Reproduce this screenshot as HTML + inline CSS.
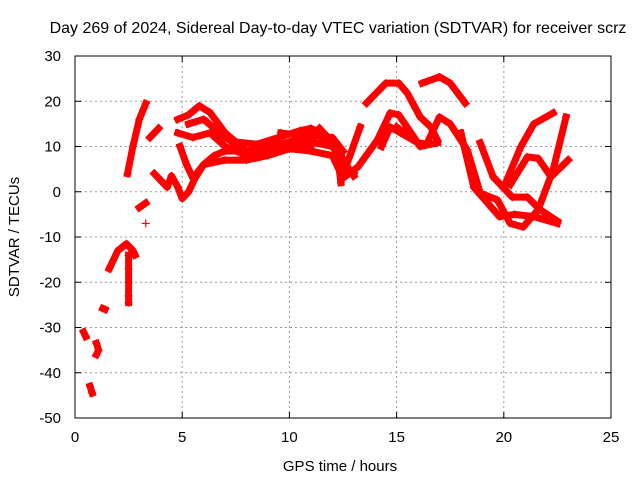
<!DOCTYPE html>
<html><head><meta charset="utf-8"><style>
body{margin:0;background:#fff}
svg{display:block;font-family:"Liberation Sans",sans-serif}
</style></head><body>
<svg id="c" width="640" height="480">
<rect width="640" height="480" fill="#fff"/>
<text x="338" y="33" font-size="16" text-anchor="middle">Day 269 of 2024, Sidereal Day-to-day VTEC variation (SDTVAR) for receiver scrz</text>
<text x="340" y="471" font-size="15" text-anchor="middle">GPS time / hours</text>
<text transform="translate(19,237) rotate(-90)" font-size="15" text-anchor="middle">SDTVAR / TECUs</text>
<g id="grid"></g><g id="marks"></g>
<rect x="75" y="56" width="536" height="362" fill="none" stroke="#000" stroke-width="1"/>
</svg>
<script>
const xTicks=[0,5,10,15,20,25];
const yTicks=[-50,-40,-30,-20,-10,0,10,20,30];
const tracks=[
[[0.4,-31],[0.5,-32]],
[[1.0,-33.5],[1.1,-35],[1.0,-36]],
[[0.7,-43],[0.8,-44.5]],
[[1.3,-25.8],[1.4,-26]],
[[1.6,-17],[2.0,-13],[2.4,-11.5],[2.7,-13],[2.8,-14]],
[[2.5,-14],[2.5,-17],[2.5,-20],[2.5,-23],[2.5,-24.5]],
[[3.0,-3.5],[3.3,-2.5]],
[[3.3,-7]],
[[2.45,4],[2.7,10],[3.0,16],[3.3,19.5]],
[[3.5,12],[3.9,14]],
[[3.7,4],[4.1,2],[4.3,1],[4.5,3.5],[4.8,1],[5.0,-1.5],[5.3,0],[5.6,3],[6.0,6],[6.5,8],[7,9],[8,9],[9,9.5],[10,10],[11,9.5]],
[[4.8,16],[5.3,17],[5.8,19],[6.3,17.5],[7,13],[7.5,11],[8.5,10.5],[9.5,12],[10.5,13.5],[11,14],[11.5,13],[12.2,10],[12.7,5],[13,4]],
[[4.8,13],[5.5,12],[6.3,13],[7,10],[8,8],[9,8.5],[10,10],[11,11],[12,10],[12.5,7],[13,3.5]],
[[4.9,10],[5.2,6],[5.5,3],[6,6],[7,7],[8,7],[9,8],[10,9.5],[11,9],[12,8],[12.4,4]],
[[5.3,15],[6,16],[7,12],[8,9],[9,10],[10,11],[11,12.5],[12,12],[12.5,9]],
[[9.6,13],[10.5,12.5],[11.4,12.3],[12.4,8.5],[12.6,5],[13.3,14.3]],
[[11.4,14],[12.2,10],[12.4,2]],
[[12.5,3],[13.2,5.5],[14.1,11.4],[14.7,17.4],[15.1,17],[16.1,10],[16.9,10.8]],
[[13.6,19.6],[14.5,24],[15.1,24],[15.5,21.8],[16.1,16.5],[16.6,14.3],[16.9,11.4]],
[[16.2,24],[17.0,25.4],[17.5,24],[18.2,19.6]],
[[14.3,10],[14.7,14.3],[15.2,13],[16.1,10.5]],
[[15.0,14.3],[16.0,10.8],[16.4,10.5],[17.0,16.5],[17.5,15],[18.3,9.2],[18.9,-0.3],[19.7,-1.8],[20.3,-7],[20.9,-7.8],[21.6,-4],[22.3,4.8],[22.9,16.5]],
[[18.0,13],[18.6,1],[19.8,-5.5],[20.5,-5],[21.4,-5.5],[22.5,-7]],
[[18.9,10.8],[19.5,3.3],[20.4,-1.2],[21.1,-1.2],[21.7,-4],[22.5,-6.5]],
[[20.0,1],[20.8,10],[21.4,15],[22.3,17.4]],
[[20.3,1.6],[21.1,7.7],[21.6,7.4],[22.2,3.3],[23.0,7]]
];
const X=v=>75+v*(536/25), Y=v=>418-(v+50)*(362/80);
const NS="http://www.w3.org/2000/svg";
const grid=document.getElementById('grid'), marks=document.getElementById('marks');
function mk(t,a,p){const e=document.createElementNS(NS,t);for(const k in a)e.setAttribute(k,a[k]);p.appendChild(e);return e;}
xTicks.forEach(t=>{
 if(t>0&&t<25){const g=mk('line',{x1:X(t),x2:X(t),y1:56,y2:418,stroke:'#999','stroke-dasharray':'2,3'},grid);
 
 }
 mk('line',{x1:X(t),x2:X(t),y1:418,y2:412,stroke:'#000'},grid);
 mk('line',{x1:X(t),x2:X(t),y1:56,y2:62,stroke:'#000'},grid);
 const l=mk('text',{x:X(t),y:442,'font-size':15,'text-anchor':'middle'},grid);l.textContent=t;
 
 
});
yTicks.forEach(t=>{
 if(t>-50&&t<30){const g=mk('line',{x1:75,x2:611,y1:Y(t),y2:Y(t),stroke:'#999','stroke-dasharray':'2,3'},grid);
 
 }
 mk('line',{x1:75,x2:81,y1:Y(t),y2:Y(t),stroke:'#000'},grid);
 mk('line',{x1:611,x2:605,y1:Y(t),y2:Y(t),stroke:'#000'},grid);
 const l=mk('text',{x:61,y:Y(t)+5,'font-size':15,'text-anchor':'end'},grid);l.textContent=t;
 
 
});
tracks.forEach(tr=>{
 const pts=tr.map(p=>X(p[0])+','+Y(p[1])).join(' ');
 const pl=mk('polyline',{points:pts,fill:'none',stroke:'#f00','stroke-width':7,'stroke-linejoin':'round','stroke-linecap':'square'},marks);
 
 
 tr.forEach(p=>{
  const m=mk('path',{d:`M${X(p[0])-4},${Y(p[1])}h8M${X(p[0])},${Y(p[1])-4}v8`,stroke:'#f00','stroke-width':1.2},marks);
  
  
 });
});
</script>
</body></html>
